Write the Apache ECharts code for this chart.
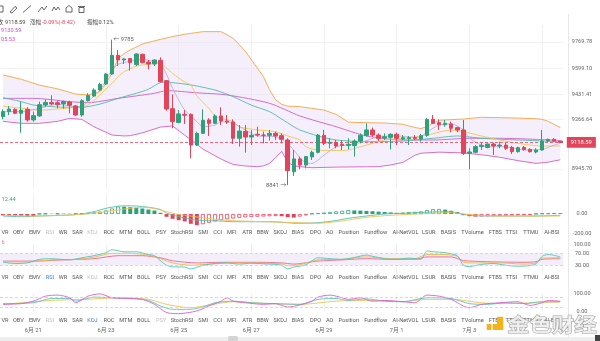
<!DOCTYPE html>
<html><head><meta charset="utf-8">
<script src="https://cdn.jsdelivr.net/npm/echarts@6/dist/echarts.min.js"></script>
<style>html,body{margin:0;padding:0;background:#fff}#c{width:600px;height:341px}</style>
</head><body><div id="c"></div>
<script>
// ---------- data ----------
const days = ['6/20','6/21','6/22','6/23','6/24','6/25','6/26','6/27','6/28','6/29','6/30','7/1','7/2','7/3','7/4','7/5'];
const hours = ['00:00','04:00','08:00','12:00','16:00','20:00'];
const categories = [];
days.forEach(d => hours.forEach(h => categories.push(d + ' ' + h)));
categories.splice(0, 1); categories.length = 93;

const open = [9285,9318,9333,9307,9333,9264,9290,9361,9378,9376, 9368,9380,9355,9296,9389,9419,9458,9497,9562,9683,
 9653,9662,9623,9690,9640,9627,9651,9519,9337,9248, 9300,9300,9101,9177,9264,9242,9290,9257,9251,9145,
 9190,9153,9171,9166,9164,9177,9162,9134,8928,9011, 8972,9024,9054,9164,9112,9119,9106,9099,9097,9127,
 9164,9199,9166,9147,9151,9171,9140,9143,9149,9140, 9164,9268,9246,9233,9238,9214,9199,9047,9054,9091,
 9086,9108,9095,9101,9086,9058,9086,9073,9056,9069, 9127,9138,9127.01];
const close = [9318,9335,9307,9328,9264,9292,9363,9378,9368,9363, 9383,9359,9296,9389,9422,9458,9495,9562,9683,9653,
 9660,9636,9692,9636,9627,9653,9512,9335,9253,9303, 9294,9101,9177,9262,9242,9290,9257,9251,9145,9192,
 9153,9164,9166,9164,9177,9160,9138,8935,9011,8972, 9026,9054,9166,9112,9119,9095,9099,9106,9127,9164,
 9199,9166,9143,9155,9171,9145,9149,9149,9143,9162, 9268,9242,9233,9242,9210,9199,9047,9056,9091,9099,
 9108,9095,9101,9080,9058,9084,9073,9058,9069,9127, 9138,9127.01,9118.59];
const low = [9268,9296,9302,9181,9253,9253,9285,9350,9361,9339, 9337,9307,9290,9285,9385,9415,9454,9491,9556,9614,
 9627,9584,9614,9631,9592,9614,9508,9324,9210,9242, 9238,9015,9095,9173,9160,9238,9231,9238,9108,9091,
 9052,9101,9156,9112,9130,9134,9112,8841,8900,8944, 8950,9004,9047,9101,9080,9080,9069,9073,9026,9112,
 9155,9155,9127,9134,9073,9101,9134,9101,9134,9123, 9155,9238,9199,9220,9184,9184,9037,8944,9047,9069,
 9080,9037,9080,9069,9043,9052,9065,9052,9047,9065, 9123,9123,9118.2];
const high = [9333,9354,9339,9383,9346,9318,9383,9398,9424,9389, 9389,9389,9361,9398,9437,9469,9506,9567,9785,9718,
 9664,9666,9696,9694,9653,9657,9670,9523,9430,9328, 9328,9307,9188,9333,9275,9300,9346,9296,9268,9231,
 9231,9199,9220,9188,9199,9188,9177,9145,9069,9026, 9030,9065,9173,9199,9145,9134,9134,9145,9138,9177,
 9242,9214,9177,9177,9177,9181,9166,9160,9166,9173, 9275,9296,9268,9264,9253,9220,9264,9080,9101,9117,
 9112,9117,9123,9117,9095,9091,9095,9080,9080,9199, 9143,9145,9129.2];

// overlay lines: [candle index, value]
const bollUpper = [[0,9556],[3,9528],[6,9490],[9,9466],[12,9432],[14,9426],[16,9447],[17,9500],[18,9570],[19,9664],[20,9695],[21,9718],[23,9757],[26,9787],[28,9805],[30,9820],[33,9837],[36,9837],[38,9794],[40,9710],[42,9600],[43,9545],[44,9460],[45,9395],[46,9365],[47,9354],[49,9350],[51,9339],[53,9328],[55,9300],[57,9250],[60,9246],[63,9244],[66,9236],[68,9215],[69,9208],[70,9222],[72,9262],[76,9270],[79,9281],[82,9279],[85,9276],[88,9272],[89,9268],[90,9255],[92,9215]];
const bollLower = [[0,9255],[3,9242],[6,9242],[9,9255],[11,9274],[13,9268],[15,9220],[18,9166],[20,9160],[21,9162],[23,9180],[26,9218],[28,9225],[30,9165],[33,9075],[36,9010],[38,8975],[40,8965],[42,8961],[43,8966],[44,8982],[45,9020],[46,9060],[47,8990],[48,8965],[49,8961],[51,8954],[55,8958],[60,8960],[62,8961],[64,8972],[66,8988],[68,9035],[69,9048],[72,9055],[76,9050],[79,9038],[82,9022],[85,9000],[88,8982],[90,8990],[92,9005.53]];
const ma5 = [[0,9318],[3,9318],[6,9339],[9,9365],[12,9350],[13,9352],[14,9383],[16,9458],[18,9588],[19,9625],[21,9645],[23,9657],[25,9642],[26,9630],[27,9560],[28,9470],[29,9393],[30,9328],[32,9253],[33,9220],[35,9231],[36,9253],[38,9242],[40,9199],[42,9160],[45,9155],[46,9140],[47,9110],[48,9069],[49,9020],[50,8985],[51,8982],[53,9036],[55,9090],[57,9101],[59,9117],[62,9155],[65,9160],[68,9151],[69,9155],[70,9185],[72,9231],[74,9238],[76,9199],[77,9145],[79,9100],[80,9090],[83,9090],[86,9069],[89,9073],[91,9101],[92,9112]];
const ma10 = [[0,9354],[3,9340],[6,9328],[9,9335],[12,9346],[14,9361],[16,9426],[17,9465],[18,9501],[19,9545],[20,9577],[22,9612],[23,9621],[25,9630],[26,9631],[27,9600],[28,9566],[30,9510],[31,9491],[32,9420],[34,9339],[35,9290],[36,9274],[38,9253],[39,9220],[42,9199],[45,9188],[47,9160],[49,9134],[50,9090],[52,9069],[55,9065],[57,9069],[60,9101],[63,9134],[66,9145],[70,9166],[74,9199],[76,9188],[80,9151],[85,9112],[89,9095],[92,9095]];
const ma20 = [[0,9408],[3,9383],[5,9361],[8,9350],[11,9346],[13,9346],[16,9367],[19,9404],[22,9437],[24,9463],[26,9506],[27,9508],[31,9491],[35,9458],[38,9415],[41,9360],[44,9318],[46,9270],[48,9220],[49,9199],[52,9160],[55,9134],[60,9123],[66,9127],[71,9145],[75,9160],[79,9145],[85,9134],[92,9123]];
const maLong = [[0,9404],[5,9404],[11,9383],[14,9376],[19,9404],[25,9437],[27,9454],[32,9440],[37,9426],[44,9372],[49,9290],[55,9220],[60,9160],[66,9134],[71,9134],[77,9145],[82,9145],[88,9138],[92,9130.59]];

// MACD
const macdHist = [-14,-15,-16,-18,-19,-20, 2,3,3,4,4,3,4,6, 10,16,24,36,55,75, 73,68,62,55,45,35,12,
 -28,-48,-62,-74,-98,-112,-102,-88,-74,-62,-52,-45,-38,-34,-30,-27,-25,-22,-20,-22,-32,-36,-26,-14,
 3,9,14,20,26,32,38,36,34,31,28,24,20,16,12,14,18,22,26,40,48,50,44,32,20,
 -12,-22,-26,-24,-22,-20,-18,-16,-14,-12,-11,-9, 2,6,8,9,8];
const macdDif = [[0,-20],[3,-27],[6,-20],[11,-10],[13,0],[15,23],[17,57],[19,78],[20,82],[22,80],[24,67],[26,45],[27,10],[28,-10],[30,-40],[32,-62],[34,-67],[36,-70],[38,-77],[44,-77],[46,-83],[48,-92],[49,-93],[52,-87],[55,-65],[57,-43],[60,-20],[63,0],[66,7],[70,18],[72,22],[74,22],[75,8],[77,-12],[79,-20],[85,-20],[88,-20],[92,-13]];
const macdDea = [[0,-10],[5,-20],[11,-10],[15,7],[18,33],[21,57],[23,67],[25,55],[27,23],[29,-5],[31,-20],[33,-38],[35,-53],[38,-67],[43,-77],[49,-87],[52,-93],[55,-77],[57,-60],[60,-33],[63,-17],[66,-7],[71,7],[74,13],[75,8],[78,-10],[82,-20],[88,-20],[92,-20]];

// RSI
const rsiA = [[0,40],[2,36],[4,38],[6,50],[8,52],[11,48],[13,55],[15,62],[17,72],[18,82],[20,75],[22,75],[24,66],[25,62],[26,45],[27,30],[28,25],[30,24],[31,18],[33,30],[35,36],[37,38],[39,34],[41,37],[43,35],[45,33],[46,30],[47,18],[48,24],[50,32],[52,55],[54,52],[56,50],[58,56],[60,64],[61,60],[63,52],[65,50],[67,54],[69,50],[70,78],[71,75],[73,72],[75,62],[76,30],[77,26],[79,33],[81,36],[83,30],[85,27],[87,29],[88,35],[89,60],[90,66],[91,63],[92,58]];
const rsiB = [[0,42],[4,41],[8,48],[12,50],[15,57],[18,70],[21,70],[24,64],[26,52],[28,38],[31,30],[34,34],[38,38],[42,37],[46,35],[47,28],[49,32],[52,48],[56,50],[60,58],[64,52],[68,52],[70,66],[73,66],[75,60],[76,40],[78,38],[82,38],[86,34],[88,38],[89,54],[92,55]];
const rsiC = [[0,44],[5,44],[10,48],[15,52],[19,62],[23,62],[26,55],[28,45],[32,38],[36,40],[42,40],[46,38],[48,34],[52,44],[56,48],[60,52],[64,50],[68,50],[70,58],[74,58],[76,46],[80,42],[86,40],[88,42],[89,50],[92,52]];

// KDJ
const kdjK = [[0,43],[5,48],[8,72],[11,72],[12,57],[15,80],[18,76],[22,70],[24,61],[26,30],[28,11],[31,11],[33,24],[35,48],[38,57],[41,48],[45,43],[49,39],[52,67],[55,72],[57,61],[60,70],[63,57],[66,54],[70,76],[74,72],[77,43],[80,39],[83,48],[86,43],[89,54],[92,54]];
const kdjD = [[0,39],[8,61],[14,68],[19,76],[24,67],[27,39],[31,20],[34,35],[38,54],[44,43],[49,39],[55,57],[60,61],[66,54],[70,67],[74,67],[79,48],[82,43],[88,48],[92,52]];
const kdjJ = [[0,39],[3,43],[5,57],[7,85],[9,91],[11,76],[12,48],[14,85],[16,98],[18,76],[21,72],[23,67],[25,39],[27,-7],[29,-13],[32,2],[34,30],[36,57],[37,76],[38,57],[40,48],[43,39],[45,43],[47,24],[49,35],[51,57],[52,80],[54,91],[56,76],[57,67],[59,76],[61,57],[63,61],[66,54],[68,48],[70,91],[72,85],[74,67],[76,30],[77,20],[79,39],[82,48],[85,54],[87,33],[89,48],[90,61],[92,57]];

// tab labels
const tabNames = ['VR','OBV','EMV','RSI','WR','SAR','KDJ','ROC','MTM','BOLL','PSY','StochRSI','SMI','CCI','MFI','ATR','BBW','SKDJ','BIAS','DPO','AO','Position','Fundflow','AI-NetVOL','LSUR','BASIS','TVolume','FTBS','TTSI','TTMU','AI-BSI'];

// ---------- layout / style ----------
const tabX = [5,18.3,34.7,50,63,77.5,92.5,109,125.8,143.7,161.2,182,203.2,217.7,231.7,247.2,262.8,280.3,297.7,315.5,329.7,348.8,375.7,405.5,428.8,448.3,472.5,495.3,511.3,530.8,551.7];
const FONT = 'Roboto, "Noto Sans CJK SC", sans-serif';
const GREEN = '#2ea17b', RED = '#e2445c';
const C_UP = '#f3a640', C_LOW = '#d65bc8', C_MA5 = '#b9aedb', C_MA10 = '#f2c64e', C_MA20 = '#4fb9ae', C_LONG = '#cf5ec8';

const chart = echarts.init(document.getElementById('c'));
const candleData = open.map((o, i) => [o, close[i], low[i], high[i]]);
const hiVal = Math.max(...high), hiIdx = high.indexOf(hiVal);
const loVal = Math.min(...low), loIdx = low.indexOf(loVal);
const lastClose = close[close.length - 1];

const isDay = v => { const p = v.split(' '); return p[1] === '00:00' && (+p[0].split('/')[1]) % 2 === 1; };
const dayLabel = v => { const d = v.split(' ')[0].split('/'); return d[0] + '月 ' + d[1]; };

const gl = -2.46, gr = 36.7;
const grids = [
  {left: gl, right: gr, top: 25, height: 163},
  {left: gl, right: gr, top: 194, height: 40},
  {left: gl, right: gr, top: 244.3, height: 30},
  {left: gl, right: gr, top: 293.5, height: 17.8}
];
function xAx(gi, showLabel) {
  return {type: 'category', gridIndex: gi, data: categories, boundaryGap: true,
    axisLine: {show: false}, axisTick: {show: false, alignWithLabel: true},
    axisLabel: showLabel ? {show: true, interval: (i, v) => isDay(v) && i < 85, formatter: dayLabel,
      fontSize: 5.8, color: '#666', margin: 16.5, fontFamily: FONT} : {show: false},
    splitLine: {show: true, interval: (i, v) => isDay(v), alignWithLabel: true, lineStyle: {color: '#f0f0f0', width: 1}}};
}
function yAx(gi, min, max, vals, split) {
  return {type: 'value', gridIndex: gi, position: 'right', min: min, max: max, scale: true,
    axisLine: {show: false}, axisTick: {show: false, customValues: vals},
    axisLabel: {show: true, customValues: vals, formatter: v => (+v).toFixed(2), fontSize: 5.6, color: '#666',
      align: 'center', margin: 18.7, fontFamily: FONT},
    splitLine: {show: !!split, lineStyle: {color: '#f2f2f2'}}};
}
function line(data, color, xi, extra) {
  return Object.assign({type: 'line', data: data, xAxisIndex: xi, yAxisIndex: xi, symbol: 'none', smooth: 0.25,
    lineStyle: {color: color, width: 0.9}, itemStyle: {color: color}, silent: true, z: 3, clip: false}, extra || {});
}

const histData = macdHist.map((v, i) => {
  const col = v >= 0 ? GREEN : RED;
  const rising = i > 0 && v > macdHist[i - 1];
  return {value: v, itemStyle: rising ? {color: '#fff', borderColor: col, borderWidth: 0.8} : {color: col}};
});

const series = [
  {type: 'custom', xAxisIndex: 0, yAxisIndex: 0, data: bollUpper, silent: true, z: 1,
    renderItem: (params, api) => {
      if (params.dataIndex !== 0) return null;
      const pts = bollUpper.map(p => api.coord(p)).concat(bollLower.slice().reverse().map(p => api.coord(p)));
      return {type: 'polygon', shape: {points: pts}, style: {fill: 'rgba(236,226,248,0.55)'}};
    }},
  line(bollUpper, C_UP, 0, {smooth: false}),
  line(bollLower, C_LOW, 0, {smooth: false}),
  line(maLong, C_LONG, 0),
  line(ma20, C_MA20, 0),
  line(ma10, C_MA10, 0),
  line(ma5, C_MA5, 0),
  {type: 'candlestick', xAxisIndex: 0, yAxisIndex: 0, data: candleData, barWidth: 4, z: 5, silent: true,
    itemStyle: {color: GREEN, color0: RED, borderColor: GREEN, borderColor0: RED, borderWidth: 1},
    markLine: {symbol: 'none', silent: true, data: [{yAxis: lastClose}],
      lineStyle: {color: RED, type: [3, 2], width: 0.8},
      label: {show: true, position: 'end', formatter: lastClose.toFixed(2), backgroundColor: RED, color: '#fff',
        fontSize: 5.8, padding: [2.5, 4], distance: 3.5, fontFamily: FONT}}},
  {type: 'scatter', xAxisIndex: 0, yAxisIndex: 0, symbolSize: 1, itemStyle: {color: 'rgba(0,0,0,0)'}, z: 6, silent: true,
    data: [
      {value: [hiIdx, hiVal], label: {show: true, position: 'right', distance: 1, formatter: '← ' + hiVal, fontSize: 5.8, color: '#333', fontFamily: FONT}},
      {value: [loIdx, loVal], label: {show: true, position: 'left', distance: 1, formatter: loVal + ' →', fontSize: 5.8, color: '#333', fontFamily: FONT}}
    ]},
  {type: 'bar', xAxisIndex: 1, yAxisIndex: 1, data: histData, barWidth: 4, silent: true, z: 2},
  line(macdDif, '#4fbfae', 1),
  line(macdDea, '#f0c24f', 1),
  line(rsiC, '#e86a83', 2, {
    markArea: {silent: true, itemStyle: {color: '#f4eefb'}, data: [[{yAxis: 30}, {yAxis: 70}]]},
    markLine: {silent: true, symbol: 'none', label: {show: false}, lineStyle: {color: '#cfcfcf', type: [3, 2], width: 0.8},
      data: [{yAxis: 70}, {yAxis: 30}]}}),
  line(rsiB, '#f2b64a', 2),
  line(rsiA, '#4cc6b8', 2),
  line(kdjD, '#f2c14e', 3, {
    markLine: {silent: true, symbol: 'none', label: {show: false}, lineStyle: {color: '#cfcfcf', type: [3, 2], width: 0.8},
      data: [{yAxis: 80}, {yAxis: 20}]}}),
  line(kdjK, '#58c6b7', 3),
  line(kdjJ, '#dc5fcf', 3)
];

// ---------- graphic overlays ----------
const g = [];
function txt(x, y, s, fill, size, align, extra) {
  g.push(Object.assign({type: 'text', x: x, y: y, silent: true, z: 50,
    style: {text: s, fill: fill, font: (size || 5.6) + 'px ' + FONT, align: align || 'left', verticalAlign: 'middle'}}, extra || {}));
}
// toolbar icons
const ic = {stroke: '#555', fill: 'none', lineWidth: 0.9};
g.push({type: 'rect', shape: {x: -3, y: 6, width: 6, height: 6}, style: ic, silent: true});
g.push({type: 'polyline', shape: {points: [[10, 12], [15, 6.5], [17, 8], [12, 13], [10, 12]]}, style: ic, silent: true});
g.push({type: 'polyline', shape: {points: [[23, 12.5], [31, 5.5]]}, style: ic, silent: true});
g.push({type: 'polyline', shape: {points: [[38, 12], [42, 7], [44, 10], [47, 6]]}, style: ic, silent: true});
g.push({type: 'polyline', shape: {points: [[52, 11], [54, 7], [56, 10], [58, 7], [60, 10]]}, style: ic, silent: true});
g.push({type: 'polyline', shape: {points: [[66, 8], [69, 5.5], [72, 8], [72, 12], [66, 12], [66, 8]]}, style: ic, silent: true});
g.push({type: 'polyline', shape: {points: [[78, 6.5], [85, 6.5]]}, style: ic, silent: true});
g.push({type: 'rect', shape: {x: 79, y: 7.5, width: 5, height: 5}, style: ic, silent: true});
// header texts
txt(-2.5, 22.5, '收', '#444', 5.6);
txt(5, 22.5, '9118.59', '#444', 5.6);
txt(30, 22.5, '涨幅', '#444', 5.6);
txt(42, 22.5, '-0.09%(-8.42)', RED, 5.6);
txt(87, 22.5, '振幅', '#444', 5.6);
txt(98.5, 22.5, '0.12%', '#444', 5.6);
txt(1, 31, '9130.59', '#d04fc4', 5.6);
txt(1, 40, '05.53', '#d04fc4', 5.6);
txt(1.5, 200, '12.44', '#3aa57e', 5.6);
txt(1.5, 242.7, '6', '#e07aa0', 5.6);
// tab rows
const rows = [{y: 232.7, st: {RSI: '#c0c0c0', KDJ: '#c0c0c0'}},
              {y: 277.3, st: {RSI: '#3d7fe0', KDJ: '#c0c0c0'}},
              {y: 320.2, st: {RSI: '#c0c0c0', KDJ: '#3d7fe0', PSY: '#c0c0c0'}}];
rows.forEach(r => tabNames.forEach((n, i) => txt(tabX[i], r.y, n, r.st[n] || '#555', 5.6, 'center')));
// separators
g.push({type: 'line', shape: {x1: 568.5, y1: 14, x2: 568.5, y2: 337}, style: {stroke: '#e8e8e8', lineWidth: 1}, silent: true});
g.push({type: 'rect', shape: {x: 0, y: 337, width: 600, height: 4}, style: {fill: '#eeeeee'}, silent: true});
g.push({type: 'rect', shape: {x: 228, y: 336, width: 10, height: 5, r: 1.5}, style: {fill: '#d4d4d4'}, silent: true});
g.push({type: 'rect', shape: {x: 595, y: 335, width: 5, height: 6}, style: {fill: '#444'}, silent: true});
// watermark
g.push({type: 'polygon', z: 60, silent: true, shape: {points: [[497, 316.7], [503.3, 316.7], [503.3, 330], [492.7, 330], [492.7, 324], [497, 324]]}, style: {fill: '#f4b21b'}});
g.push({type: 'rect', z: 60, silent: true, shape: {x: 486.7, y: 324, width: 4.8, height: 6}, style: {fill: '#f4b21b'}});
g.push({type: 'text', z: 60, silent: true, x: 507, y: 324.5, scaleX: 1.18,
  style: {text: '金色财经', font: 'bold 19px "Noto Sans CJK SC"', fill: 'rgba(240,240,240,0.9)', stroke: '#9e9e9e', lineWidth: 1, verticalAlign: 'middle'}});

chart.setOption({
  animation: false,
  backgroundColor: '#fff',
  grid: grids,
  xAxis: [xAx(0, false), xAx(1, false), xAx(2, false), xAx(3, true)],
  yAxis: [
    yAx(0, 8822.41, 9880.09, [8945.70, 9266.64, 9431.41, 9599.10, 9769.78], true),
    yAx(1, -200, 200, [-200, 0], false),
    yAx(2, 0, 100, [30, 70, 100], false),
    yAx(3, 0, 100, [0, 100], false)
  ],
  series: series,
  graphic: g
});
</script>
</body></html>
